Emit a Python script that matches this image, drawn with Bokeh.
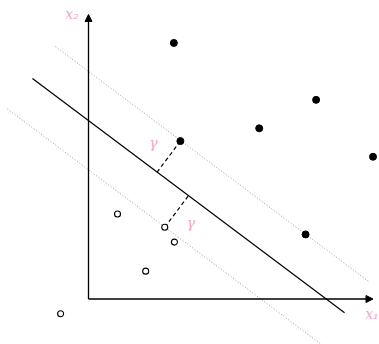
import numpy as np
from bokeh.plotting import figure
from bokeh.models import Arrow, NormalHead, Range1d
from bokeh.core.properties import value
from bokeh.embed import file_html
from bokeh.resources import INLINE

# data
pos_x = [3.0, 8.0, 6.0, 10.0, 3.23, 7.63]
pos_y = [9.0, 7.0, 6.0, 5.0, 5.55, 2.27]
neg_x = [1.02, 2.68, 3.02, 2.01, -0.98]
neg_y = [2.99, 2.52, 2.0, 0.98, -0.52]
slope = -0.75
intercept = 6.27
margin = 1.73
solid_x = [-1.97, 9.0]
upper_x = [-1.16, 9.84]
lower_x = [-2.85, 8.3]
support_pos = (3.23, 5.55)
support_neg = (2.68, 2.52)
axis_len = 10.0
gamma_pos = [(2.28, 5.5), (3.6, 2.66)]
PINK = "#f7a3c3"

p = figure(width=379, height=344, output_backend="svg", toolbar_location=None,
           x_range=Range1d(-3.093, 10.228), y_range=Range1d(-1.599, 10.492),
           min_border=0, outline_line_color=None)
p.axis.visible = False
p.grid.visible = False

def yline(xs, b):
    return [b + slope * x for x in xs]

p.line(solid_x, yline(solid_x, intercept), line_color="black", line_width=1.2)
p.line(upper_x, yline(upper_x, intercept + margin), line_color="#999999",
       line_width=1, line_dash="1 2")
p.line(lower_x, yline(lower_x, intercept - margin), line_color="#999999",
       line_width=1, line_dash="1 2")

# perpendicular dashed segments
n = np.array([-slope, 1.0]) / np.hypot(slope, 1.0)
for sx, sy in (support_pos, support_neg):
    d = (sy - (intercept + slope * sx)) / np.hypot(slope, 1.0)
    fx, fy = sx - d * n[0], sy - d * n[1]
    p.line([sx, fx], [sy, fy], line_color="black", line_width=1.2, line_dash="4 3")

# axes
p.add_layout(Arrow(end=NormalHead(size=7, fill_color="black", line_color="black"),
                   x_start=0, y_start=0, x_end=axis_len, y_end=0,
                   line_color="black", line_width=1.3))
p.add_layout(Arrow(end=NormalHead(size=7, fill_color="black", line_color="black"),
                   x_start=0, y_start=0, x_end=0, y_end=axis_len,
                   line_color="black", line_width=1.3))

p.scatter(pos_x, pos_y, size=7, fill_color="black", line_color="black")
p.scatter(neg_x, neg_y, size=6, fill_color="white", line_color="black", line_width=1.1)

p.text([10.2], [-0.52], text=["x₁"], text_color=PINK, text_font=value("DejaVu Serif"),
       text_font_style="italic", text_font_size="14px", text_align="right",
       text_baseline="middle")
p.text([-0.58], [10.0], text=["x₂"], text_color=PINK, text_font=value("DejaVu Serif"),
       text_font_style="italic", text_font_size="14px", text_align="center",
       text_baseline="middle")
p.text([g[0] for g in gamma_pos], [g[1] for g in gamma_pos], text=["γ", "γ"],
       text_color=PINK, text_font=value("DejaVu Serif"), text_font_style="italic",
       text_font_size="14px", text_align="center", text_baseline="middle")

open("out.html", "w").write(file_html(p, INLINE))
